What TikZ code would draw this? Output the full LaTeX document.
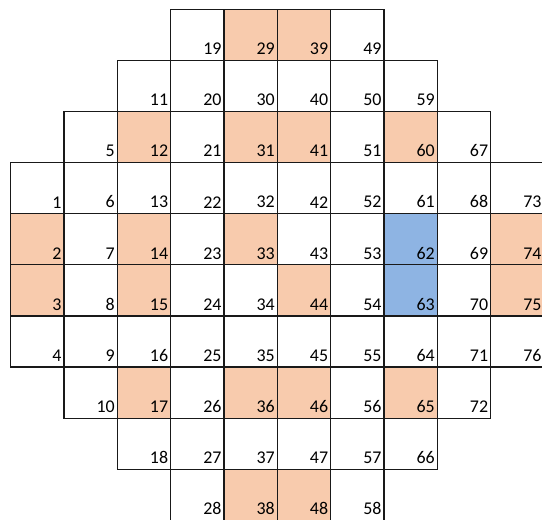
\documentclass[tikz,border=0pt]{standalone}
\usepackage{fontspec}
\setmainfont{Carlito}
\usetikzlibrary{backgrounds}
\definecolor{naranjaCelda}{RGB}{248,203,173}
\definecolor{azulCelda}{RGB}{142,180,227}
\begin{document}
\begin{tikzpicture}[x={(1.0667cm,0)}, y={(0,-1.0222cm)},
    celda/.style={rectangle, draw=black!90, line width=0.7pt, minimum width=1.0667cm, minimum height=1.0222cm, inner sep=0pt},
    numero/.style={anchor=south east, inner xsep=1.6pt, inner ysep=3.4pt, font=\fontsize{10.2}{12}\selectfont, text=black}]

    \useasboundingbox (-0.2,-0.182) rectangle (9.962,9.973);

    % columna/fila inicial/primer/ultimo numero
    \foreach \col/\top/\first/\last in {0/3/1/4, 1/2/5/10, 2/1/11/18, 3/0/19/28, 4/0/29/38,
                                        5/0/39/48, 6/0/49/58, 7/1/59/66, 8/2/67/72, 9/3/73/76} {
        \foreach \n in {\first,...,\last} {
            \pgfmathtruncatemacro\row{\top+\n-\first}
            \node [celda, label={[numero]south east:\n}] (cell\n) at (\col+0.5,\row+0.5) {};
        }
    }

    \begin{pgfonlayer}{background}
        \foreach \n in {2,3,12,14,15,17,29,31,33,36,38,39,41,44,46,48,60,65,74,75}
            \fill [naranjaCelda] (cell\n.south west) rectangle (cell\n.north east);
        \foreach \n in {62,63}
            \fill [azulCelda] (cell\n.south west) rectangle (cell\n.north east);
    \end{pgfonlayer}
\end{tikzpicture}
\end{document}
